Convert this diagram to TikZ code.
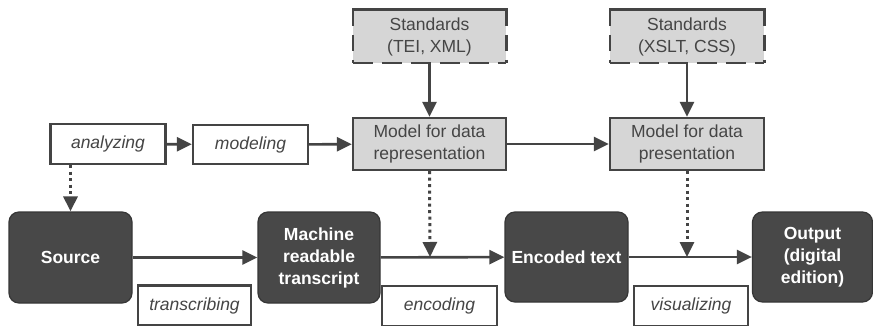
\documentclass[tikz,border=0pt]{standalone}
\usepackage{fontspec}
\setmainfont{Liberation Sans}
\usetikzlibrary{arrows.meta}
\definecolor{ln}{HTML}{444444}
\definecolor{darkbox}{HTML}{484848}
\definecolor{lightbox}{HTML}{D6D6D6}
\definecolor{txt}{HTML}{454545}
\tikzset{
  base/.style={align=center, inner sep=0pt, font=\fontsize{17.5}{22}\selectfont},
  stdbox/.style={base, fill=lightbox, text=txt},
  stdline/.style={draw=ln, line width=2.6pt},
  sidedash/.style={stdline, dash pattern=on 16pt off 9pt},
  botdash/.style={stdline, dash pattern=on 20pt off 9pt},
  modelbox/.style={base, draw=ln, fill=lightbox, line width=2.4pt, text=txt},
  actbox/.style={base, draw=ln, fill=white, line width=2.4pt, text=txt, font=\fontsize{17.5}{22}\selectfont\itshape},
  darkbx/.style={base, draw=ln!80!black, fill=darkbox, line width=1.2pt, rounded corners=10pt, text=white, font=\fontsize{17.5}{22}\selectfont\bfseries},
  arr/.style={draw=ln, line width=2.6pt, -{Triangle[length=15pt,width=14pt]}},
  darr/.style={arr, line width=3pt, dash pattern=on 3pt off 3.5pt}
}
\begin{document}
\begin{tikzpicture}[x=1pt,y=-1pt]
\useasboundingbox (0,0) rectangle (873,326);
\fill[white] (0,0) rectangle (873,326);
\node[stdbox, minimum width=153pt, minimum height=53pt] (std1) at (429.5,36.5) {Standards\\(TEI, XML)};
\node[stdbox, minimum width=154pt, minimum height=53pt] (std2) at (687,36.5) {Standards\\(XSLT, CSS)};
\foreach \s in {std1,std2}{
  \draw[stdline, line cap=rect] (\s.north west) -- (\s.north east);
  \draw[sidedash] (\s.north west) -- (\s.south west);
  \draw[sidedash] (\s.north east) -- (\s.south east);
  \draw[botdash] (\s.south west) -- (\s.south east);
}
\node[modelbox, minimum width=153pt, minimum height=52pt] (rep) at (429.5,144) {Model for data\\representation};
\node[modelbox, minimum width=154pt, minimum height=52pt] (pres) at (687,144) {Model for data\\presentation};
\node[actbox, minimum width=115pt, minimum height=40pt] (ana) at (108,144) {analyzing};
\node[actbox, minimum width=115pt, minimum height=39pt] (mod) at (250.5,144.5) {modeling};
\node[darkbx, minimum width=123pt, minimum height=91pt] (src) at (70.5,257.5) {Source};
\node[darkbx, minimum width=122pt, minimum height=91pt] (mrt) at (319,257.5) {Machine\\readable\\transcript};
\node[darkbx, minimum width=123pt, minimum height=90pt] (enc) at (566.5,257) {Encoded text};
\node[darkbx, minimum width=120pt, minimum height=90pt] (out) at (812.5,257) {Output\\(digital\\edition)};
\node[actbox, minimum width=113pt, minimum height=40pt] (trans) at (194.5,305.5) {transcribing};
\node[actbox, minimum width=115pt, minimum height=40pt] (encl) at (439.5,306) {encoding};
\node[actbox, minimum width=114pt, minimum height=40pt] (vis) at (691,306) {visualizing};
\coordinate (c1) at (430,257);
\coordinate (c2) at (687,257);
\draw[arr] (ana) -- (mod);
\draw[arr] (mod) -- (rep);
\draw[arr] (rep) -- (pres);
\draw[arr] (std1) -- (rep);
\draw[arr] (std2) -- (pres);
\draw[darr] (ana.south -| src.north) -- (src.north);
\draw[arr] (src) -- (mrt);
\draw[arr] (mrt) -- (enc);
\draw[arr] (enc) -- (out);
\draw[darr] (rep.south) -- (c1);
\draw[darr] (pres.south) -- (c2);
\end{tikzpicture}
\end{document}
